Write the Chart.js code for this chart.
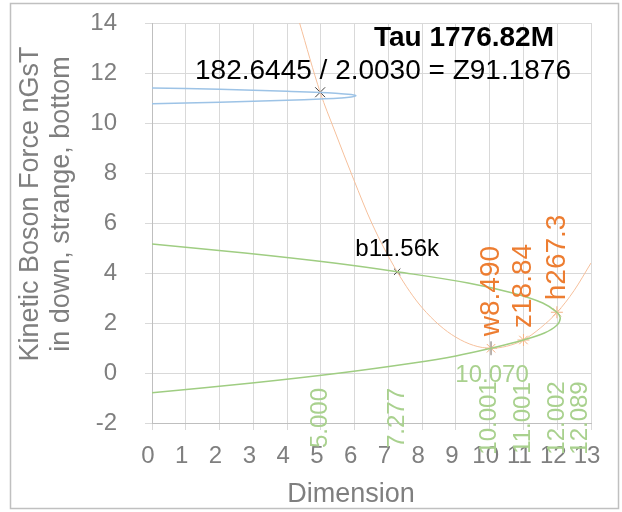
<!DOCTYPE html>
<html>
<head>
<meta charset="utf-8">
<script src="https://cdn.jsdelivr.net/npm/chart.js@4/dist/chart.umd.min.js"></script>
<style>
    body { margin: 0; background: #fff; }
    canvas { display: block; }
</style>
</head>
<body>
<canvas id="chart" width="622" height="512"></canvas>
<script>
// 坐标轴刻度
const xTicks = [0, 1, 2, 3, 4, 5, 6, 7, 8, 9, 10, 11, 12, 13];
const yTicks = [-2, 0, 2, 4, 6, 8, 10, 12, 14];

// 蓝色曲线 (横向抛物线)
const blueX = [0, 2, 4, 5, 5.6, 5.9, 6.04, 5.9, 5.6, 5, 4, 2, 0];
const blueY = [11.40, 11.35, 11.27, 11.22, 11.17, 11.14, 11.09, 11.04, 11.00, 10.96, 10.91, 10.83, 10.77];

// 绿色曲线
const greenX = [0, 2.75, 5.39, 7.26, 9.36, 10.68, 11.57, 11.99, 12.09, 11.98, 11.62, 11.0, 10.04, 9.0, 7.74, 5.57, 2.96, 0];
const greenY = [5.16, 4.8, 4.4, 4.05, 3.6, 3.2, 2.8, 2.43, 2.2, 1.9, 1.6, 1.32, 0.99, 0.68, 0.4, 0.0, -0.4, -0.79];

// 橙色曲线
const orangeX = [4.37, 4.98, 5.4, 5.97, 6.51, 7.26, 8.0, 9.0, 10.04, 10.5, 11.0, 11.5, 12.0, 12.5, 13.0];
const orangeY = [14.0, 11.23, 9.72, 7.75, 5.99, 4.05, 2.61, 1.43, 0.99, 1.07, 1.32, 1.8, 2.43, 3.3, 4.4];

// 黑色交点
const crossX = [4.98, 7.26];
const crossY = [11.23, 4.05];
const crossSizes = [7, 4.5];

// 橙色星形交点
const starX = [10.04, 11.0, 11.99];
const starY = [0.99, 1.32, 2.43];
const starLabels = ['w8.490', 'z18.84', 'h267.3'];

// 底部维度标签
const dimValues = [5.000, 7.277, 10.001, 11.001, 12.002, 12.089];
const dimLabels = ['5.000', '7.277', '10.001', '11.001', '12.002', '12.089'];
const minValue = 10.070;
const minLabel = '10.070';

const titleText = 'Tau 1776.82M';
const formulaText = '182.6445 / 2.0030 = Z91.1876';
const crossLabel = 'b11.56k';
const yTitle = ['Kinetic Boson Force nGsT', 'in down, strange, bottom'];
const xTitle = 'Dimension';

const FONT = '"Liberation Sans", Arial, sans-serif';
const GRAY = '#7f7f7f';

const toPoints = (xs, ys) => xs.map((x, i) => ({ x, y: ys[i] }));

// 文字与边框
const overlay = {
    id: 'overlay',
    afterDatasetsDraw(chart) {
        const { ctx, scales: { x, y } } = chart;
        ctx.save();

        // 标题
        ctx.fillStyle = '#000';
        ctx.textAlign = 'center';
        ctx.textBaseline = 'alphabetic';
        ctx.font = 'bold 28px ' + FONT;
        ctx.fillText(titleText, 464, 46);
        ctx.font = '28px ' + FONT;
        ctx.fillText(formulaText, 383, 79);

        // b 标签
        ctx.font = '24px ' + FONT;
        ctx.fillText(crossLabel, x.getPixelForValue(crossX[1]), y.getPixelForValue(crossY[1]) - 16);

        // 橙色竖排标签
        ctx.fillStyle = '#ed7d31';
        ctx.font = '28px ' + FONT;
        ctx.textAlign = 'left';
        ctx.textBaseline = 'middle';
        starLabels.forEach((label, i) => {
            ctx.save();
            ctx.translate(x.getPixelForValue(starX[i]), y.getPixelForValue(starY[i]) - 12);
            ctx.rotate(-Math.PI / 2);
            ctx.fillText(label, 0, 0);
            ctx.restore();
        });

        // 绿色维度标签
        ctx.fillStyle = '#a9d18e';
        ctx.font = '24px ' + FONT;
        ctx.textAlign = 'center';
        dimLabels.forEach((label, i) => {
            const shift = i === dimLabels.length - 1 ? 20 : 0;
            ctx.save();
            ctx.translate(x.getPixelForValue(dimValues[i]) + shift, y.getPixelForValue(-2) - 5);
            ctx.rotate(-Math.PI / 2);
            ctx.fillText(label, 0, 0);
            ctx.restore();
        });
        ctx.fillText(minLabel, x.getPixelForValue(minValue), y.getPixelForValue(0) + 2);

        ctx.restore();
    },
    afterDraw(chart) {
        const { ctx } = chart;
        ctx.save();
        ctx.fillStyle = GRAY;
        ctx.font = '27px ' + FONT;
        ctx.textAlign = 'center';
        ctx.textBaseline = 'alphabetic';
        ctx.fillText(xTitle, 351, 502);
        yTitle.forEach((line, i) => {
            ctx.save();
            ctx.translate(38 + i * 31, 204);
            ctx.rotate(-Math.PI / 2);
            ctx.fillText(line, 0, 0);
            ctx.restore();
        });
        ctx.strokeStyle = '#c0c0c0';
        ctx.lineWidth = 1.5;
        ctx.strokeRect(10.5, 3.5, 608, 505);
        ctx.restore();
    }
};

const ctx = document.getElementById('chart').getContext('2d');
new Chart(ctx, {
    type: 'scatter',
    data: {
        datasets: [
            {
                data: toPoints(blueX, blueY),
                showLine: true,
                borderColor: '#9dc3e6',
                borderWidth: 1.5,
                pointRadius: 0,
                tension: 0.4
            },
            {
                data: toPoints(greenX, greenY),
                showLine: true,
                borderColor: '#9fcd82',
                borderWidth: 1.5,
                pointRadius: 0,
                tension: 0.4
            },
            {
                data: toPoints(orangeX, orangeY),
                showLine: true,
                borderColor: '#f6c09c',
                borderWidth: 1,
                pointRadius: 0,
                cubicInterpolationMode: 'monotone'
            },
            {
                data: toPoints(crossX, crossY),
                pointStyle: 'crossRot',
                pointRadius: crossSizes,
                borderColor: '#404040',
                borderWidth: 1
            },
            {
                data: [{ x: starX[0], y: starY[0] }],
                pointStyle: 'line',
                rotation: 90,
                pointRadius: 7,
                borderColor: '#a6a6a6',
                borderWidth: 1.5
            },
            {
                data: toPoints(starX, starY),
                pointStyle: 'star',
                pointRadius: 6,
                borderColor: '#f4b183',
                borderWidth: 1
            }
        ]
    },
    options: {
        responsive: false,
        animation: false,
        layout: { padding: { top: 23, right: 31, left: 0, bottom: 0 } },
        plugins: {
            legend: { display: false },
            tooltip: { enabled: false }
        },
        scales: {
            x: {
                type: 'linear',
                min: 0,
                max: 13,
                afterBuildTicks: s => { s.ticks = xTicks.map(v => ({ value: v })); },
                afterFit: s => {
                    s.height = 89;
                    s.paddingLeft = 0;
                    s.paddingRight = 0;
                },
                grid: { color: '#d9d9d9', tickLength: 7 },
                border: { color: '#bfbfbf' },
                ticks: {
                    color: GRAY,
                    font: { size: 24, family: FONT },
                    padding: 12,
                    labelOffset: -4,
                    maxRotation: 0,
                    autoSkip: false
                }
            },
            y: {
                min: -2,
                max: 14,
                afterBuildTicks: s => { s.ticks = yTicks.map(v => ({ value: v })); },
                afterFit: s => {
                    s.width = 152;
                    s.paddingTop = 0;
                    s.paddingBottom = 0;
                },
                grid: { color: '#d9d9d9', tickLength: 7 },
                border: { color: '#bfbfbf' },
                ticks: {
                    color: GRAY,
                    font: { size: 24, family: FONT },
                    padding: 28
                }
            }
        }
    },
    plugins: [overlay]
});
</script>
</body>
</html>
